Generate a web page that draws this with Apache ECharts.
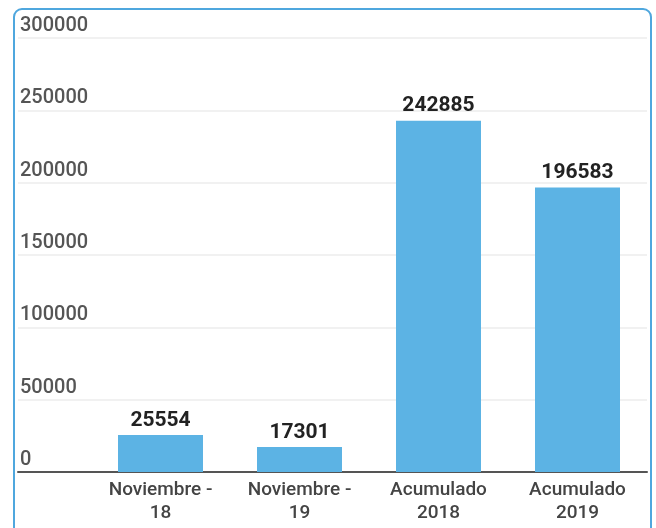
<!DOCTYPE html>
<html>
<head>
<meta charset="utf-8">
<script src="https://cdn.jsdelivr.net/npm/echarts@6/dist/echarts.min.js"></script>
<style>
  html, body { margin: 0; padding: 0; background: #ffffff; }
  #wrap { position: relative; width: 656px; height: 528px; overflow: hidden; }
  #frame { position: absolute; left: 13px; top: 8px; width: 639px; height: 600px;
           border: 2.5px solid #4fa7de; border-radius: 9px; box-sizing: border-box; }
  #chart { position: absolute; left: 0; top: 0; width: 656px; height: 528px; }
</style>
</head>
<body>
<div id="wrap">
  <div id="frame"></div>
  <div id="chart"></div>
</div>
<script>
const categories = ['Noviembre -\n18', 'Noviembre -\n19', 'Acumulado\n2018', 'Acumulado\n2019'];
const values = [25554, 17301, 242885, 196583];
const yMin = 0;
const yMax = 300000;
const yStep = 50000;

const chart = echarts.init(document.getElementById('chart'), null, { renderer: 'canvas' });
const fontFamily = 'Roboto, "Noto Sans", sans-serif';

chart.setOption({
  animation: false,
  backgroundColor: 'transparent',
  grid: [
    { left: 18, right: 9, top: 38, bottom: 56 },
    { left: 91, right: 9, top: 38, bottom: 56 }
  ],
  xAxis: [
    {
      gridIndex: 0, type: 'category', data: [''],
      axisLine: { show: true, lineStyle: { color: '#555555', width: 2 } },
      axisTick: { show: false }, axisLabel: { show: false }, splitLine: { show: false }
    },
    {
      gridIndex: 1, type: 'category', data: categories,
      axisLine: { show: false }, axisTick: { show: false },
      axisLabel: {
        color: '#444444', fontSize: 19, fontWeight: 500, fontFamily: fontFamily,
        lineHeight: 23, margin: 7, interval: 0
      }
    }
  ],
  yAxis: [
    {
      gridIndex: 0, type: 'value', min: yMin, max: yMax, interval: yStep,
      axisLine: { show: false }, axisTick: { show: false },
      axisLabel: {
        inside: true, margin: 2, color: '#555555', fontSize: 20, fontWeight: 500,
        fontFamily: fontFamily, verticalAlign: 'bottom', padding: [0, 0, 2, 0],
        formatter: function (v) { return String(v); }
      },
      splitLine: { show: true, lineStyle: { color: '#ececec', width: 1.5 } }
    },
    {
      gridIndex: 1, type: 'value', min: yMin, max: yMax, interval: yStep, show: false,
      splitLine: { show: false }
    }
  ],
  series: [
    {
      type: 'bar', xAxisIndex: 1, yAxisIndex: 1, data: values, barWidth: 85,
      itemStyle: { color: '#5cb3e4' },
      label: {
        show: true, position: 'top', distance: 4, color: '#222222', fontSize: 21,
        fontWeight: 'bold', fontFamily: fontFamily
      }
    }
  ]
});
</script>
</body>
</html>
